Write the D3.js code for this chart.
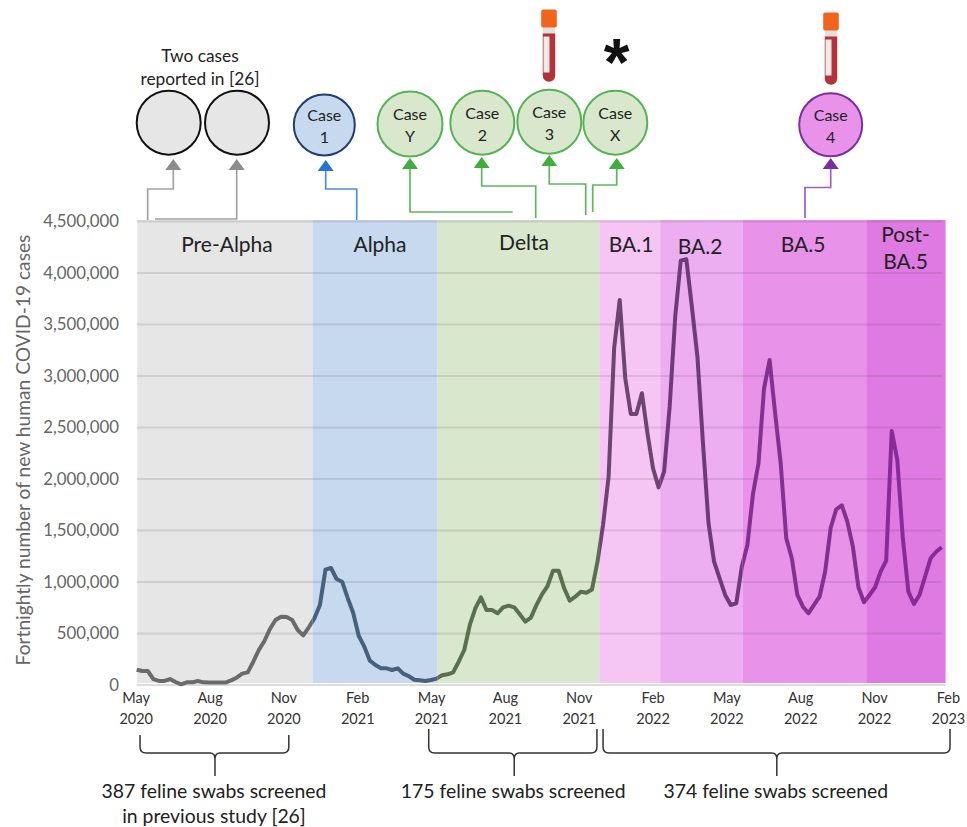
<!DOCTYPE html>
<html>
<head>
<meta charset="utf-8">
<script src="https://cdn.jsdelivr.net/npm/d3@7"></script>
<style>
	html, body { margin: 0; padding: 0; background: #fff; }
	svg { display: block; }
	text { font-family: Lato, sans-serif; }
</style>
</head>
<body>
<svg id="chart" width="967" height="827"></svg>
<script>

// Weekly samples of the fortnightly case count, May 2020 to Feb 2023
const cases = [
	148, 136, 136, 58, 39, 39, 58, 29, 7, 26, 26, 39, 26, 24, 24, 24, 24, 45, 71, 110,
	123, 226, 340, 427, 544, 631, 663, 660, 631, 534, 482, 560, 647, 776, 1120, 1136, 1029, 1003, 845, 699,
	476, 372, 236, 194, 162, 162, 146, 162, 110, 87, 51, 46, 39, 49, 62, 94, 104, 123, 226, 340,
	583, 745, 851, 728, 728, 696, 754, 770, 754, 686, 615, 654, 776, 880, 961, 1110, 1110, 939, 818, 857,
	906, 896, 927, 1197, 1553, 2022, 3269, 3738, 2978, 2631, 2631, 2832, 2444, 2104, 1919, 2071, 2702, 3576, 4120, 4133,
	3673, 3187, 2347, 1570, 1197, 1036, 874, 777, 793, 1149, 1359, 1853, 2152, 2880, 3155, 2637, 2152, 1424, 1230, 874,
	760, 696, 777, 857, 1100, 1524, 1706, 1745, 1586, 1343, 949, 803, 874, 949, 1100, 1207, 2466, 2185, 1424, 906,
	786, 874, 1051, 1230, 1294, 1337
].map(d => d * 1000);

const yTicks = [0, 500000, 1000000, 1500000, 2000000, 2500000, 3000000, 3500000, 4000000, 4500000];

const tickWeeks = [0, 13.3, 26.6, 39.9, 53.2, 66.5, 79.8, 93.1, 106.4, 119.7, 133, 146.3];
const tickMonths = ["May", "Aug", "Nov", "Feb", "May", "Aug", "Nov", "Feb", "May", "Aug", "Nov", "Feb"];
const tickYears = ["2020", "2020", "2020", "2021", "2021", "2021", "2021", "2022", "2022", "2022", "2022", "2023"];

// Variant periods
const bandNames = ["Pre-Alpha", "Alpha", "Delta", "BA.1", "BA.2", "BA.5", "Post-BA.5"];
const bandStarts = [0.1, 31.7, 54.2, 83.3, 94.3, 109.1, 131.4];
const bandEnds = [31.7, 54.2, 83.3, 94.3, 109.1, 131.4, 145.7];
const bandFills = ["#e6e6e6", "#c6d9ef", "#d9e7cd", "#f5c6f3", "#ecaef0", "#e992ea", "#df7ae2"];
const bandLines = ["#6a6a6a", "#47607d", "#5a7050", "#6d4472", "#70397a", "#84308f", "#8a2a96"];

const width = 967, height = 827;

const x = d3.scaleLinear().domain([0, 145]).range([136.7, 941.7]);
const y = d3.scaleLinear().domain([0, 4500000]).range([685, 221.5]);

const svg = d3.select("#chart");

// Bands
svg.append("g").selectAll("rect")
	.data(bandNames)
	.enter()
	.append("rect")
		.attr("x", (d, i) => x(bandStarts[i]))
		.attr("y", y(4500000) - 1.5)
		.attr("width", (d, i) => x(bandEnds[i]) - x(bandStarts[i]))
		.attr("height", y(0) - y(4500000) - 0.5)
		.attr("fill", (d, i) => bandFills[i]);

// Baseline and gridlines
svg.append("line")
	.attr("x1", x(0)).attr("x2", x(145.7))
	.attr("y1", y(0)).attr("y2", y(0))
	.attr("stroke", "#dcdcdc")
	.attr("stroke-width", 2);

svg.append("g").selectAll("line")
	.data(yTicks.slice(1))
	.enter()
	.append("line")
		.attr("x1", x(0)).attr("x2", x(145))
		.attr("y1", d => y(d)).attr("y2", d => y(d))
		.attr("stroke", "rgba(90,70,90,0.15)")
		.attr("stroke-width", 2);

// Y axis
const yAxis = d3.axisLeft(y)
	.tickValues(yTicks)
	.tickSize(0)
	.tickPadding(0)
	.tickFormat(d3.format(","));

const yAxisG = svg.append("g")
	.attr("transform", "translate(119,0)")
	.call(yAxis);
yAxisG.select(".domain").remove();
yAxisG.selectAll("text")
	.attr("fill", "#666")
	.style("font-size", "16.8px")
	.style("font-family", "Lato, sans-serif");

svg.append("text")
	.attr("transform", "translate(30,450) rotate(-90)")
	.attr("text-anchor", "middle")
	.attr("fill", "#666")
	.style("font-size", "19.2px")
	.text("Fortnightly number of new human COVID-19 cases");

// X axis, two-line labels
const xAxis = d3.axisBottom(x)
	.tickValues(tickWeeks)
	.tickSize(0)
	.tickFormat("");

const xAxisG = svg.append("g")
	.attr("transform", "translate(0,685)")
	.call(xAxis);
xAxisG.select(".domain").remove();
xAxisG.selectAll(".tick text").each(function (d, i) {
	const t = d3.select(this)
		.attr("y", 0)
		.attr("dy", 0)
		.attr("fill", "#333")
		.style("font-size", "14.5px")
		.style("font-family", "Lato, sans-serif");
	t.append("tspan").attr("x", -1).attr("y", 18).text(tickMonths[i]);
	t.append("tspan").attr("x", -1).attr("y", 39).text(tickYears[i]);
});

// Case line, one clipped copy per band so the colour follows the band
const line = d3.line()
	.x((d, i) => x(i))
	.y(d => y(d));

const defs = svg.append("defs");
bandNames.forEach((name, i) => {
	defs.append("clipPath")
		.attr("id", "band-clip-" + i)
		.append("rect")
			.attr("x", i == 0 ? 0 : x(bandStarts[i]))
			.attr("y", 200)
			.attr("width", i == 0 ? x(bandEnds[i]) : x(bandEnds[i]) - x(bandStarts[i]) + (i == 6 ? 10 : 0))
			.attr("height", 500);

	svg.append("path")
		.attr("d", line(cases))
		.attr("fill", "none")
		.attr("stroke", bandLines[i])
		.attr("stroke-width", 4)
		.attr("stroke-linejoin", "round")
		.attr("clip-path", "url(#band-clip-" + i + ")");
});

// Band labels
const labelX = [227, 380, 524, 631, 700, 803, 905.5];
const labelY = [252, 252, 250, 252, 253.5, 252, 0];
const labels = svg.append("g")
	.attr("text-anchor", "middle")
	.attr("fill", "#222")
	.style("font-size", "21px");

bandNames.forEach((name, i) => {
	if (name == "Post-BA.5") {
		labels.append("text").attr("x", labelX[i]).attr("y", 242).text("Post-");
		labels.append("text").attr("x", labelX[i]).attr("y", 269).text("BA.5");
	} else {
		labels.append("text").attr("x", labelX[i]).attr("y", labelY[i]).text(name);
	}
});

// Connectors from the chart up to the case circles
function arrow(points, color, headColor) {
	const tip = points[points.length - 1];
	const base = tip[1] + 11;
	const stem = points.slice(0, -1).concat([[tip[0], base]]);
	svg.append("path")
		.attr("d", d3.line()(stem))
		.attr("fill", "none")
		.attr("stroke", color)
		.attr("stroke-width", 1.7);
	svg.append("path")
		.attr("d", d3.line()([[tip[0], tip[1]], [tip[0] + 8, base], [tip[0] - 8, base]]) + "Z")
		.attr("fill", headColor);
}

const grey = "#a3a3a3", greyHead = "#8c8c8c";
const blue = "#4a90d9", blueHead = "#1f77d0";
const green = "#5db85d", greenHead = "#3fae3f";
const purple = "#a35cc0", purpleHead = "#7a2fa0";

arrow([[147.7, 220], [147.7, 189], [173.3, 189], [173.3, 159]], grey, greyHead);
arrow([[155, 219], [236.7, 219], [236.7, 159]], grey, greyHead);
arrow([[356.7, 220], [356.7, 189], [325.7, 189], [325.7, 160]], blue, blueHead);
arrow([[512.7, 212], [410, 212], [410, 158]], green, greenHead);
arrow([[535.7, 218], [535.7, 186], [481.7, 186], [481.7, 157]], green, greenHead);
arrow([[585.7, 215], [585.7, 184], [549.3, 184], [549.3, 155]], green, greenHead);
arrow([[592.7, 212], [592.7, 185], [616.7, 185], [616.7, 158]], green, greenHead);
arrow([[805, 218], [805, 187.5], [830.7, 187.5], [830.7, 158]], purple, purpleHead);

// Case circles
const circleNames = ["", "", "1", "Y", "2", "3", "X", "4"];
const circleX = [168.7, 237, 324.3, 410, 482.3, 549.3, 615.3, 830.7];
const circleY = [122.7, 122.7, 125, 124, 122.7, 121.7, 122.7, 124.7];
const circleR = [32, 32, 30.5, 32.5, 32, 32, 32, 31.5];
const circleFills = ["#e6e6e6", "#e6e6e6", "#c6d9ef", "#d9e7cd", "#d9e7cd", "#d9e7cd", "#d9e7cd", "#e992ea"];
const circleStrokes = ["#111", "#111", "#1f3f6f", "#55b355", "#55b355", "#55b355", "#55b355", "#7a2fa0"];

circleNames.forEach((name, i) => {
	svg.append("circle")
		.attr("cx", circleX[i])
		.attr("cy", circleY[i])
		.attr("r", circleR[i])
		.attr("fill", circleFills[i])
		.attr("stroke", circleStrokes[i])
		.attr("stroke-width", 2);

	if (name != "") {
		const t = svg.append("text")
			.attr("text-anchor", "middle")
			.attr("fill", "#222")
			.style("font-size", "16px");
		t.append("tspan").attr("x", circleX[i]).attr("y", circleY[i] - 4).text("Case");
		t.append("tspan").attr("x", circleX[i]).attr("y", circleY[i] + 18).text(name);
	}
});

// Blood tubes above cases 3 and 4
function tube(cx, top) {
	const g = svg.append("g").attr("transform", "translate(" + cx + "," + top + ")");
	g.append("path")
		.attr("d", "M-6.2,16 V66 a6.2,6.2 0 0 0 12.4,0 V16 Z")
		.attr("fill", "#e4e0dc");
	g.append("path")
		.attr("d", "M-6.2,24 H6.2 V66 a6.2,6.2 0 0 1 -12.4,0 Z")
		.attr("fill", "#b5323a");
	g.append("rect")
		.attr("x", -5.5).attr("y", 27)
		.attr("width", 6).attr("height", 36)
		.attr("fill", "#eeeae6");
	g.append("rect")
		.attr("x", -7.8).attr("y", 0)
		.attr("width", 15.6).attr("height", 18)
		.attr("rx", 2)
		.attr("fill", "#f2641e");
}
tube(549, 9.5);
tube(831, 12.5);

// Asterisk above case X
svg.append("text")
	.attr("x", 616.7)
	.attr("y", 85)
	.attr("text-anchor", "middle")
	.attr("fill", "#111")
	.style("font-family", "'Liberation Sans', sans-serif")
	.style("font-weight", "bold")
	.style("font-size", "66px")
	.text("*");

// Note above the first two circles
const note = svg.append("text")
	.attr("text-anchor", "middle")
	.attr("fill", "#222")
	.style("font-size", "17.3px");
note.append("tspan").attr("x", 200).attr("y", 62).text("Two cases");
note.append("tspan").attr("x", 200).attr("y", 85).text("reported in [26]");

// Brackets under the axis, with the number of swabs
const bracketFrom = [0.6, 52.6, 84];
const bracketTo = [27.4, 82.9, 146.5];
const bracketMid = [14.1, 68, 115.3];
const bracketTop = [735, 729, 729];
const bracketText = [
	["387 feline swabs screened", "in previous study [26]"],
	["175 feline swabs screened"],
	["374 feline swabs screened"]
];

bracketFrom.forEach((from, i) => {
	const a = x(from), b = x(bracketTo[i]), m = x(bracketMid[i]), t = bracketTop[i];
	const h = 753;
	svg.append("path")
		.attr("d", "M" + a + "," + t + " V" + (h - 6) + " Q" + a + "," + h + " " + (a + 6) + "," + h +
			" H" + (m - 5) + " Q" + m + "," + h + " " + m + "," + (h + 6) + " V776" +
			" M" + m + "," + (h + 6) + " Q" + m + "," + h + " " + (m + 5) + "," + h +
			" H" + (b - 6) + " Q" + b + "," + h + " " + b + "," + (h - 6) + " V" + t)
		.attr("fill", "none")
		.attr("stroke", "#333")
		.attr("stroke-width", 1.5);

	bracketText[i].forEach((s, j) => {
		svg.append("text")
			.attr("x", m - 1)
			.attr("y", 798 + j * 25)
			.attr("text-anchor", "middle")
			.attr("fill", "#222")
			.style("font-size", "19.4px")
			.text(s);
	});
});

</script>
</body>
</html>
